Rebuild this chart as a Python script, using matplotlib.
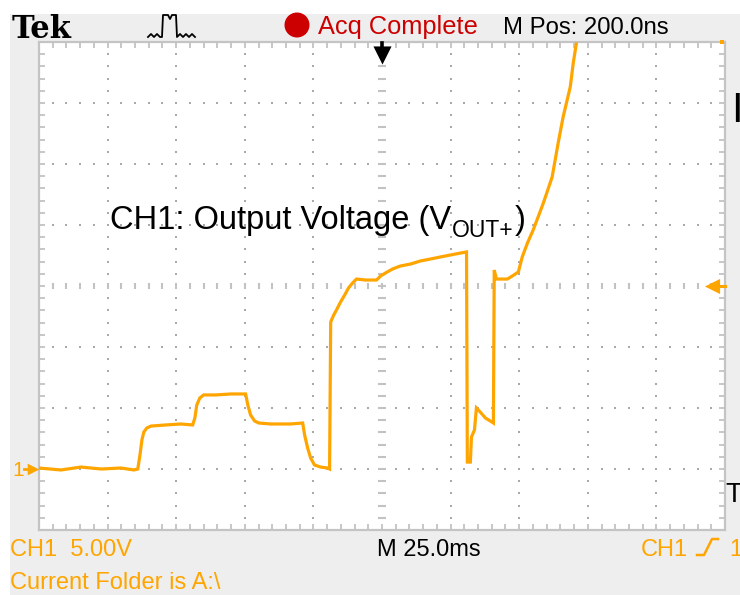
import numpy as np
import matplotlib
matplotlib.use("Agg")
import matplotlib.pyplot as plt
from matplotlib.patches import Circle, Rectangle

# ---------------- data (CH1 trace: time in ms, voltage in V) ----------------
time_ms = [0.0, 8.0, 15.3, 22.6, 29.9, 34.6, 36.0,
           36.8, 37.5, 38.2, 39.3, 40.8, 46.2, 51.7, 56.0,
           56.8, 57.5, 58.6, 60.0, 64.4, 69.9, 75.3,
           76.1, 77.1, 78.6, 80.1, 84.4, 91.7, 96.1,
           96.8, 97.9, 99.0, 100.4, 102.6, 105.2, 105.9,
           106.3, 107.4, 108.4, 109.9, 111.4, 112.8, 114.3, 115.7, 119.0, 123.0,
           124.5, 126.3, 128.8, 131.7, 135.4, 139.0, 142.6, 146.3, 149.9, 153.6, 155.8,
           156.1, 157.2, 157.6, 158.7, 159.4, 160.8, 162.7, 164.5, 165.6,
           165.9, 166.7, 170.7, 172.5, 174.7, 176.1, 178.0, 180.1, 183.8, 187.0,
           189.2, 191.0, 193.6, 194.7, 195.8]
volts = [0.08, -0.08, 0.16, 0.0, 0.08, -0.08, 0.0,
         1.15, 2.38, 3.03, 3.36, 3.52, 3.61, 3.69, 3.61,
         4.18, 5.25, 5.82, 6.07, 6.07, 6.15, 6.15,
         5.25, 4.43, 3.93, 3.77, 3.69, 3.69, 3.77,
         2.79, 1.72, 0.90, 0.33, 0.16, 0.08, 0.0,
         12.05, 12.62, 13.03, 13.69, 14.26, 14.84, 15.25, 15.57, 15.49, 15.49,
         15.82, 16.07, 16.39, 16.64, 16.80, 17.05, 17.21, 17.38, 17.54, 17.70, 17.79,
         0.57, 0.57, 2.62, 3.20, 5.00, 4.67, 4.18, 3.93, 3.77,
         16.31, 15.57, 15.57, 15.82, 16.15, 17.38, 18.52, 19.59, 21.80, 23.93,
         26.72, 28.85, 31.31, 33.28, 34.84]

volts_per_div = 5.0
ms_per_div = 25.0
n_xdiv, n_ydiv = 10, 8
ground_div = 1          # ground marker 1 division above bottom
trig_level_v = 15.0

header_red = "Acq Complete"
header_pos = "M Pos: 200.0ns"
ch_scale = "CH1  5.00V"
time_scale = "M 25.0ms"
folder = "Current Folder is A:\\"
caption_main = "CH1: Output Voltage (V"
caption_sub = "OUT+"
caption_end = ")"

# icon shapes (pixel decoration)
pulse_x = [148, 151, 154, 157, 160, 162, 163, 168, 170, 172, 176, 177, 180, 183, 186, 189, 192, 195]
pulse_y = [37, 34, 37, 34, 37, 37, 15, 15, 19, 15, 15, 37, 34, 37, 34, 37, 34, 37]

ORANGE = "#ffa500"
RED = "#cc0000"
GRID = "#a9a9a9"
EDGE = "#c4c4c4"

W, H = 740, 595
fig = plt.figure(figsize=(W / 100, H / 100), dpi=100, facecolor="#eeeeee")

# bottom overlay (pixel coordinates)
bg = fig.add_axes([0, 0, 1, 1], zorder=0)
bg.set_xlim(0, W); bg.set_ylim(H, 0); bg.axis("off")
bg.add_patch(Rectangle((0, 0), W, 14, color="white", lw=0))
bg.add_patch(Rectangle((0, 0), 10, H, color="white", lw=0))

# main graticule axes
L, R, T, B = 39, 725, 42, 530
ax = fig.add_axes([L / W, (H - B) / H, (R - L) / W, (B - T) / H], zorder=1)
ax.set_facecolor("white")
xmax = n_xdiv * ms_per_div
ymin = -ground_div * volts_per_div
ymax = (n_ydiv - ground_div) * volts_per_div
ax.set_xlim(0, xmax)
ax.set_ylim(ymin, ymax)
for s in ax.spines.values():
    s.set_color(EDGE); s.set_linewidth(1.6)
ax.set_xticks(np.arange(0, xmax + 0.1, ms_per_div))
ax.set_xticks(np.arange(0, xmax + 0.1, ms_per_div / 5), minor=True)
ax.set_yticks(np.arange(ymin, ymax + 0.1, volts_per_div))
ax.set_yticks(np.arange(ymin, ymax + 0.1, volts_per_div / 5), minor=True)
ax.tick_params(which="both", direction="in", length=4.5, width=1.1, color="#b8b8b8",
               top=True, right=True, labelleft=False, labelbottom=False)

# dotted graticule
xmaj = np.arange(ms_per_div, xmax - 0.1, ms_per_div)
ymaj = np.arange(ymin + volts_per_div, ymax - 0.1, volts_per_div)
xmin_ = np.arange(ms_per_div / 5, xmax - 0.1, ms_per_div / 5)
ymin_ = np.arange(ymin + volts_per_div / 5, ymax - 0.1, volts_per_div / 5)
xc = xmax / 2
yc = ymin + n_ydiv / 2 * volts_per_div
dx, dy = [], []
for xv in xmaj:
    if abs(xv - xc) < 1e-6:
        continue
    for yv in ymin_:
        dx.append(xv); dy.append(yv)
for yv in ymaj:
    if abs(yv - yc) < 1e-6:
        continue
    for xv in xmin_:
        dx.append(xv); dy.append(yv)
ax.scatter(dx, dy, s=2.2, marker="s", color=GRID, lw=0, zorder=1)
# center cross with dashes
ax.scatter(xmin_, np.full(len(xmin_), yc), s=22, marker="|", color="#c2c2c2", linewidths=1.5, zorder=1)
ax.scatter(np.full(len(ymin_), xc), ymin_, s=30, marker="_", color="#c2c2c2", linewidths=1.5, zorder=1)

# trace
ax.plot(time_ms, volts, color=ORANGE, lw=2.3, solid_joinstyle="miter", zorder=3)
ax.scatter([xmax - 1], [ymax], s=12, marker="s", color=ORANGE, lw=0, clip_on=False, zorder=4)

# top overlay
fg = fig.add_axes([0, 0, 1, 1], zorder=3)
fg.set_xlim(0, W); fg.set_ylim(H, 0); fg.axis("off")
fg.patch.set_alpha(0)

sans = ["Liberation Sans", "DejaVu Sans"]
fg.text(12, 38, "Tek", family="DejaVu Serif", weight="bold", fontsize=22, va="baseline", color="black")
fg.plot(pulse_x, pulse_y, color="black", lw=1.3)
fg.add_patch(Circle((297, 25), 12.5, color=RED, lw=0))
fg.text(318, 34, header_red, family=sans, fontsize=18.3, color=RED, va="baseline")
fg.text(503, 34, header_pos, family=sans, fontsize=17.2, color="black", va="baseline")

# trigger position arrow (top), trigger level arrow (right), ground marker (left)
xpix = lambda t: L + (R - L) * t / xmax
ypix = lambda v: B - (B - T) * (v - ymin) / (ymax - ymin)
tx = xpix(xc)
fg.plot([tx, tx], [43, 52], color="black", lw=2.6)
fg.scatter([tx], [54.5], marker="v", s=170, color="black", lw=0)
ty = ypix(trig_level_v)
fg.plot([712, 725], [ty, ty], color=ORANGE, lw=2.2)
fg.scatter([712], [ty], marker="<", s=120, color=ORANGE, lw=0)
gy = ypix(0)
fg.text(12, gy + 7, "1", family=sans, fontsize=15, color=ORANGE, va="baseline")
fg.plot([24, 32], [gy, gy], color=ORANGE, lw=2.0)
fg.scatter([33], [gy], marker=">", s=70, color=ORANGE, lw=0)

# caption: main text, subscript, closing parenthesis
r = fig.canvas.get_renderer()
t1 = fg.text(110, 229, caption_main, family=sans, fontsize=23.5, color="black", va="baseline")
x1 = t1.get_window_extent(r).x1
t2 = fg.text(x1 + 1, 237, caption_sub, family=sans, fontsize=16.5, color="black", va="baseline")
x2 = t2.get_window_extent(r).x1
fg.text(x2 + 1, 229, caption_end, family=sans, fontsize=23.5, color="black", va="baseline")

# bottom readouts
fg.text(10, 556, ch_scale, family=sans, fontsize=17, color=ORANGE, va="baseline")
fg.text(377, 556, time_scale, family=sans, fontsize=17, color="black", va="baseline")
fg.text(641, 556, "CH1", family=sans, fontsize=17, color=ORANGE, va="baseline")
fg.plot([697, 704, 712, 718], [555, 555, 539, 539], color=ORANGE, lw=1.8)
fg.text(729, 556, "1", family=sans, fontsize=17, color=ORANGE, va="baseline")
fg.text(10, 589, folder, family=sans, fontsize=17, color=ORANGE, va="baseline")

# clipped glyphs at right edge
fg.text(731, 122, "I", family=sans, fontsize=30, color="black", va="baseline")
fg.text(725, 502, "T", family=sans, fontsize=20, color="black", va="baseline")

fig.savefig("out.png", dpi=100, facecolor=fig.get_facecolor())
